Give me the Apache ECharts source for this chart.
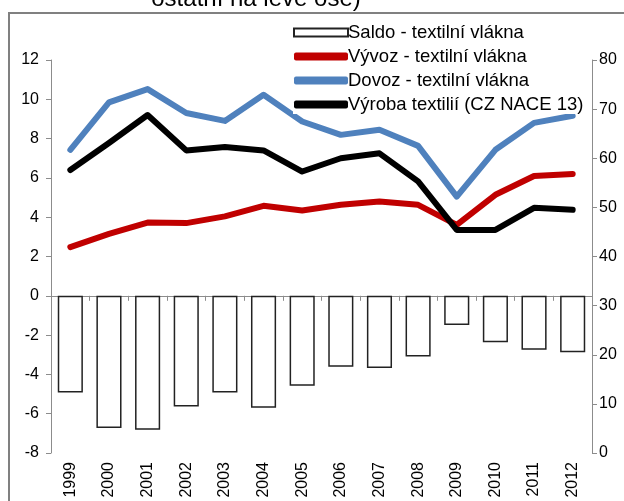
<!DOCTYPE html>
<html>
<head>
<meta charset="utf-8">
<script src="https://cdn.jsdelivr.net/npm/echarts@6/dist/echarts.min.js"></script>
<style>
  html, body { margin: 0; padding: 0; background: #fff; }
  #chart { width: 624px; height: 501px; }
</style>
</head>
<body>
<div id="chart"></div>
<script>
const years = ['1999', '2000', '2001', '2002', '2003', '2004', '2005', '2006', '2007', '2008', '2009', '2010', '2011', '2012'];
// levá osa
const saldo = [-4.92, -6.73, -6.82, -5.63, -4.92, -5.7, -4.58, -3.61, -3.68, -3.09, -1.49, -2.36, -2.75, -2.87];
const vyvoz = [2.48, 3.15, 3.73, 3.7, 4.04, 4.58, 4.34, 4.63, 4.8, 4.63, 3.61, 5.14, 6.1, 6.2];
const dovoz = [7.43, 9.84, 10.52, 9.3, 8.9, 10.23, 8.87, 8.19, 8.45, 7.63, 5.05, 7.43, 8.8, 9.16];
// pravá osa
const vyroba = [57.6, 63.1, 68.8, 61.6, 62.3, 61.6, 57.3, 60.0, 61.0, 55.3, 45.4, 45.4, 49.9, 49.5];

const font = 'Liberation Sans, Arial, sans-serif';
const axisColor = '#8c8c8c';

const chart = echarts.init(document.getElementById('chart'));

const option = {
  animation: false,
  grid: { left: 51, right: 32, top: 60, bottom: 48 },
  graphic: [
    {
      type: 'rect',
      shape: { x: 9, y: 13, width: 700, height: 600 },
      style: { fill: null, stroke: '#808080', lineWidth: 2 },
      z: -10
    },
    {
      type: 'text',
      x: 256, y: 11,
      style: {
        text: 'ostatní na levé ose)',
        font: '24px ' + font,
        fill: '#000',
        align: 'center',
        verticalAlign: 'bottom'
      }
    }
  ],
  legend: {
    orient: 'vertical',
    left: 293,
    top: 23,
    itemWidth: 54,
    itemHeight: 8,
    itemGap: 5,
    backgroundColor: '#fff',
    padding: [0, 2, 0, 0],
    textStyle: { fontFamily: font, fontSize: 18.5, color: '#000', lineHeight: 18, padding: [0, 0, 0, -5] },
    data: [
      { name: 'Saldo - textilní vlákna', icon: 'rect' },
      { name: 'Vývoz - textilní vlákna', icon: 'roundRect' },
      { name: 'Dovoz - textilní vlákna', icon: 'roundRect' },
      { name: 'Výroba textilií (CZ NACE 13)', icon: 'roundRect' }
    ]
  },
  xAxis: [
    {
      type: 'category',
      data: years,
      position: 'bottom',
      axisLine: { show: false, onZero: false },
      axisTick: { show: false },
      axisLabel: { rotate: 90, fontFamily: font, fontSize: 16, color: '#000', margin: 9 }
    },
    {
      type: 'category',
      data: years,
      position: 'bottom',
      axisLine: { show: true, onZero: true, onZeroAxisIndex: 0, lineStyle: { color: axisColor, width: 1 } },
      axisTick: { show: true, length: 5, lineStyle: { color: axisColor } },
      axisLabel: { show: false }
    }
  ],
  yAxis: [
    {
      type: 'value',
      min: -8, max: 12, interval: 2,
      splitLine: { show: false },
      axisLine: { show: true, lineStyle: { color: axisColor } },
      axisTick: { show: true, length: 5, lineStyle: { color: axisColor } },
      axisLabel: { fontFamily: font, fontSize: 16, color: '#000', margin: 12 }
    },
    {
      type: 'value',
      position: 'right',
      min: 0, max: 80, interval: 10,
      splitLine: { show: false },
      axisLine: { show: true, lineStyle: { color: axisColor } },
      axisTick: { show: true, length: 5, lineStyle: { color: axisColor } },
      axisLabel: { fontFamily: font, fontSize: 16, color: '#000', margin: 7 }
    }
  ],
  series: [
    {
      name: 'Saldo - textilní vlákna',
      type: 'bar',
      data: saldo,
      barWidth: '65%',
      itemStyle: { color: '#fff', borderColor: '#222', borderWidth: 1.5 }
    },
    {
      name: 'Vývoz - textilní vlákna',
      type: 'line',
      data: vyvoz,
      symbol: 'none',
      color: '#C00000',
      lineStyle: { width: 6, color: '#C00000', cap: 'round', join: 'round' }
    },
    {
      name: 'Dovoz - textilní vlákna',
      type: 'line',
      data: dovoz,
      symbol: 'none',
      color: '#4F81BD',
      lineStyle: { width: 6, color: '#4F81BD', cap: 'round', join: 'round' }
    },
    {
      name: 'Výroba textilií (CZ NACE 13)',
      type: 'line',
      yAxisIndex: 1,
      data: vyroba,
      symbol: 'none',
      color: '#000',
      z: 3,
      lineStyle: { width: 6, color: '#000', cap: 'round', join: 'round' }
    }
  ]
};

chart.setOption(option);
</script>
</body>
</html>
